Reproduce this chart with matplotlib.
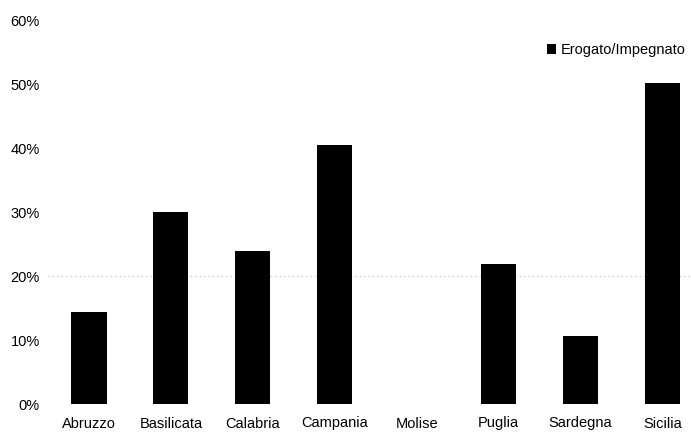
import numpy as np
import matplotlib
matplotlib.use("Agg")
import matplotlib.pyplot as plt
from matplotlib.ticker import PercentFormatter

regions = ["Abruzzo", "Basilicata", "Calabria", "Campania", "Molise",
           "Puglia", "Sardegna", "Sicilia"]
erogato_impegnato = [0.143, 0.300, 0.239, 0.405, 0.0, 0.219, 0.106, 0.502]
y_ticks = [0.0, 0.1, 0.2, 0.3, 0.4, 0.5, 0.6]

plt.rcParams['font.family'] = ['Liberation Sans', 'DejaVu Sans']

fig = plt.figure(figsize=(6.91, 4.32), dpi=100)
ax = fig.add_axes([48 / 691, 28 / 432, 643 / 691, 384 / 432])

x = np.arange(len(regions))
ax.bar(x, erogato_impegnato, width=0.43, color="black",
       label="Erogato/Impegnato", zorder=3)

# faint dotted gridline that survived in the scan
ax.axhline(0.2, color="#bbbbbb", linestyle=(0, (1, 3)), linewidth=0.8, zorder=1)
ax.axhline(0.0, color="#cccccc", linestyle=(0, (1, 3)), linewidth=0.8, zorder=1)

ax.set_xlim(-0.5, 7.35)
ax.set_ylim(0, 0.6)
ax.set_yticks(y_ticks)
ax.yaxis.set_major_formatter(PercentFormatter(1.0, decimals=0))
ax.set_xticks(x)
ax.set_xticklabels(regions)
ax.tick_params(length=0, labelsize=10.5)
ax.tick_params(axis="y", pad=6)
ax.tick_params(axis="x", pad=9)
for s in ax.spines.values():
    s.set_visible(False)

ax.legend(loc="upper right", bbox_to_anchor=(1.0, 0.955), frameon=False,
          fontsize=10.5, handlelength=0.6, handleheight=0.6, handletextpad=0.3,
          borderaxespad=0)

fig.savefig("out.png", dpi=100)
